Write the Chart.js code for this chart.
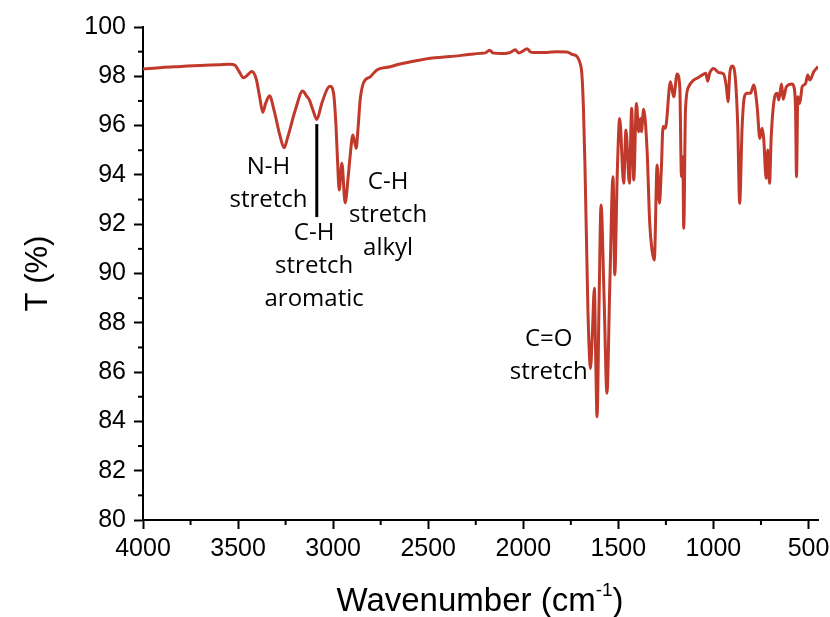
<!DOCTYPE html>
<html>
<head>
<meta charset="utf-8">
<script src="https://cdn.jsdelivr.net/npm/chart.js@4.4.1/dist/chart.umd.min.js"></script>
<style>
  html, body { margin: 0; padding: 0; background: #fff; }
</style>
</head>
<body>
<canvas id="Chart" width="830" height="617"></canvas>
<script>
// spectrum (wavenumber in cm-1, transmittance in %)
const wavenumbers = [
  4000, 3900, 3800, 3700, 3600, 3542, 3516, 3495, 3472, 3450, 3428, 3405, 3385, 3370, 3355, 3335,
  3310, 3280, 3258, 3240, 3200, 3160, 3140, 3125, 3105, 3086, 3060, 3030, 3016, 2998, 2985, 2977,
  2968, 2954, 2937, 2920, 2911, 2896, 2879, 2868, 2858, 2840, 2805, 2770, 2700, 2647, 2550, 2489,
  2384, 2279, 2226, 2200, 2177, 2160, 2138, 2100, 2068, 2042, 2025, 2000, 1981, 1960, 1946, 1875,
  1823, 1770, 1744, 1717, 1700, 1692, 1684, 1676, 1668, 1660, 1655, 1647, 1637, 1626, 1619, 1612,
  1602, 1591, 1575, 1560, 1545, 1528, 1519, 1506, 1493, 1472, 1460, 1442, 1430, 1419, 1405, 1393,
  1384, 1379, 1367, 1349, 1335, 1323, 1311, 1296, 1284, 1274, 1265, 1253, 1226, 1209, 1191, 1177,
  1168, 1161, 1156, 1147, 1130, 1104, 1086, 1068, 1051, 1040, 1030, 1020, 998, 972, 946, 932,
  923, 914, 900, 884, 872, 862, 849, 837, 823, 805, 788, 770, 756, 744, 735, 723,
  714, 705, 696, 682, 665, 656, 642, 633, 616, 586, 577, 568, 563, 556, 546, 533,
  516, 504, 493, 472, 458, 450
];
const transmittance = [
  98.30, 98.36, 98.40, 98.44, 98.47, 98.49, 98.45, 98.20, 97.94, 98.05, 98.19, 97.90, 97.10, 96.54, 96.90, 97.21,
  96.60, 95.60, 95.10, 95.50, 96.60, 97.40, 97.20, 97.04, 96.60, 96.25, 96.90, 97.50, 97.60, 97.32, 96.00, 94.60,
  93.39, 94.47, 92.87, 94.00, 94.74, 95.62, 95.08, 96.00, 97.04, 97.74, 97.98, 98.26, 98.39, 98.50, 98.65, 98.73,
  98.80, 98.89, 98.93, 98.95, 99.06, 98.95, 98.93, 98.92, 98.97, 99.08, 98.95, 99.03, 99.12, 98.98, 98.97, 98.97,
  99.00, 98.99, 98.89, 98.80, 98.50, 98.10, 96.80, 94.50, 91.50, 88.50, 87.20, 86.15, 87.50, 89.40, 86.50, 84.19,
  88.50, 92.78, 89.00, 85.14, 89.50, 93.93, 89.94, 94.00, 96.29, 93.66, 95.82, 93.66, 96.70, 93.79, 96.90, 95.75,
  96.29, 95.75, 96.66, 95.01, 92.04, 90.95, 90.55, 94.40, 92.85, 94.20, 95.96, 95.89, 97.78, 97.17, 98.09, 97.58,
  93.93, 94.74, 91.83, 96.63, 97.58, 97.85, 97.92, 98.01, 98.09, 98.12, 97.80, 98.12, 98.32, 98.15, 98.09, 97.58,
  96.97, 98.12, 98.42, 97.85, 95.96, 92.85, 95.96, 97.17, 97.31, 97.31, 97.65, 96.77, 95.48, 95.89, 95.42, 93.86,
  95.01, 93.66, 95.55, 96.97, 97.31, 97.04, 97.69, 97.07, 97.58, 97.69, 97.58, 96.63, 93.93, 97.17, 96.90, 97.58,
  97.69, 98.05, 97.85, 98.19, 98.32, 98.40
];

const xTickLabels = [4000, 3500, 3000, 2500, 2000, 1500, 1000, 500];
const xMinorTicks = [3750, 3250, 2750, 2250, 1750, 1250, 750];
const yTickLabels = [80, 82, 84, 86, 88, 90, 92, 94, 96, 98, 100];
const yMinorTicks = [81, 83, 85, 87, 89, 91, 93, 95, 97, 99];

// band labels, anchored at (wavenumber, T) of the first line
const bandLabels = [
  { lines: ['N-H', 'stretch'], x: 3340, y: 94.32 },
  { lines: ['C-H', 'stretch', 'aromatic'], x: 3100, y: 91.64 },
  { lines: ['C-H', 'stretch', 'alkyl'], x: 2711, y: 93.71 },
  { lines: ['C=O', 'stretch'], x: 1866, y: 87.34 }
];
const markerLine = { x: 3086, from: 96.06, to: 92.29 };

const spectrum = wavenumbers.map((w, i) => ({ x: w, y: transmittance[i] }));

const extrasPlugin = {
  id: 'extras',
  afterDatasetsDraw(chart) {
    const ctx = chart.ctx;
    const xs = chart.scales.x, ys = chart.scales.y;
    ctx.save();
    // minor ticks
    ctx.strokeStyle = '#000';
    ctx.lineWidth = 2;
    xMinorTicks.forEach(v => {
      const px = xs.getPixelForValue(v);
      ctx.beginPath(); ctx.moveTo(px, ys.bottom); ctx.lineTo(px, ys.bottom + 5); ctx.stroke();
    });
    yMinorTicks.forEach(v => {
      const py = ys.getPixelForValue(v);
      ctx.beginPath(); ctx.moveTo(xs.left, py); ctx.lineTo(xs.left - 5, py); ctx.stroke();
    });
    // marker line for aromatic C-H
    ctx.lineWidth = 3;
    const mx = xs.getPixelForValue(markerLine.x);
    ctx.beginPath();
    ctx.moveTo(mx, ys.getPixelForValue(markerLine.from));
    ctx.lineTo(mx, ys.getPixelForValue(markerLine.to));
    ctx.stroke();
    // band labels
    ctx.fillStyle = '#000';
    ctx.font = '24px "Open Sans"';
    ctx.textAlign = 'center';
    ctx.textBaseline = 'middle';
    bandLabels.forEach(lab => {
      const px = xs.getPixelForValue(lab.x);
      const py = ys.getPixelForValue(lab.y);
      lab.lines.forEach((t, i) => ctx.fillText(t, px, py + i * 33));
    });
    ctx.restore();
  },
  afterDraw(chart) {
    const ctx = chart.ctx;
    const area = chart.chartArea;
    ctx.save();
    ctx.fillStyle = '#000';
    // y title
    ctx.font = '31px "Liberation Sans"';
    ctx.textAlign = 'center';
    ctx.textBaseline = 'middle';
    ctx.translate(38, (area.top + area.bottom) / 2);
    ctx.rotate(-Math.PI / 2);
    ctx.fillText('T (%)', 0, 0);
    ctx.restore();
    // x title with superscript
    ctx.save();
    ctx.fillStyle = '#000';
    ctx.textBaseline = 'alphabetic';
    ctx.textAlign = 'left';
    const big = '33px "Liberation Sans"', small = '19px "Liberation Sans"';
    ctx.font = big;
    const w1 = ctx.measureText('Wavenumber (cm').width;
    const w3 = ctx.measureText(')').width;
    ctx.font = small;
    const w2 = ctx.measureText('-1').width;
    let x0 = 480 - (w1 + w2 + w3) / 2;
    const base = 611;
    ctx.font = big;
    ctx.fillText('Wavenumber (cm', x0, base);
    ctx.font = small;
    ctx.fillText('-1', x0 + w1, base - 15);
    ctx.font = big;
    ctx.fillText(')', x0 + w1 + w2, base);
    ctx.restore();
  }
};

const ctx = document.getElementById('Chart').getContext('2d');
const myChart = new Chart(ctx, {
  type: 'line',
  data: {
    datasets: [{
      data: spectrum,
      borderColor: '#c0392b',
      borderWidth: 3,
      pointRadius: 0,
      fill: false,
      cubicInterpolationMode: 'monotone'
    }]
  },
  options: {
    responsive: false,
    animation: false,
    layout: { padding: { left: 0, right: 0, top: 27, bottom: 0 } },
    plugins: { legend: { display: false }, tooltip: { enabled: false } },
    scales: {
      x: {
        type: 'linear',
        reverse: true,
        min: 450,
        max: 4000,
        afterBuildTicks: scale => { scale.ticks = xTickLabels.map(v => ({ value: v })); },
        afterFit: scale => { scale.height = 97; scale.paddingRight = 12; scale.paddingLeft = 0; },
        ticks: {
          color: '#000', font: { family: 'Liberation Sans', size: 25 }, padding: 5, maxRotation: 0, autoSkip: false,
          callback: value => String(value)
        },
        grid: { drawOnChartArea: false, tickLength: 9, tickColor: '#000', tickWidth: 2 },
        border: { color: '#000', width: 2 }
      },
      y: {
        min: 80,
        max: 100,
        afterBuildTicks: scale => { scale.ticks = yTickLabels.map(v => ({ value: v })); },
        afterFit: scale => { scale.width = 143; },
        ticks: { color: '#000', font: { family: 'Liberation Sans', size: 25 }, padding: 8, callback: value => String(value) },
        grid: { drawOnChartArea: false, tickLength: 9, tickColor: '#000', tickWidth: 2 },
        border: { color: '#000', width: 2 }
      }
    }
  },
  plugins: [extrasPlugin]
});
</script>
</body>
</html>
